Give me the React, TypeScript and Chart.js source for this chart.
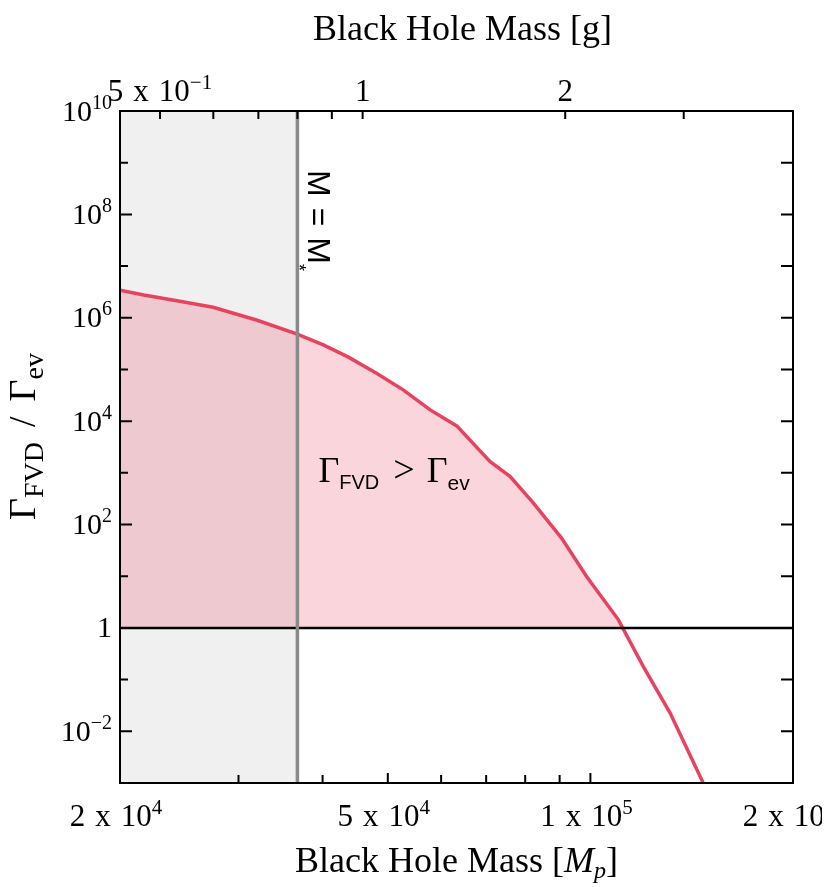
import React, { useEffect, useRef } from 'react';
import { Chart, registerables } from 'chart.js';

Chart.register(...registerables);

// ---------- data ----------
const PLANCK_MASS_G = 2.18e-5; // grams per Planck mass
const massMp = [2.0e4, 2.17e4, 2.43e4, 2.75e4, 3.19e4, 3.66e4, 4.01e4, 4.37e4, 4.81e4, 5.27e4, 5.78e4, 6.33e4, 7.09e4, 7.6e4, 8.23e4, 9.06e4, 9.87e4, 1.1e5, 1.198e5, 1.313e5, 1.471e5];
const rateRatio = [3.4e6, 2.76e6, 2.14e6, 1.6e6, 9.06e5, 4.86e5, 2.98e5, 1.73e5, 8.47e4, 4.03e4, 1.65e4, 8.1e3, 1.66e3, 850, 260, 54.8, 9.9, 1.45, 0.181, 0.0228, 1.0e-3];
const mStarGrams = 0.8;
const xMinMp = 2e4;
const xMaxMp = 2e5;
const yMin = 1e-3;
const yMax = 1e10;
const unityRatio = 1;

const bottomTickValues = [3e4, 4e4, 5e4, 6e4, 7e4, 8e4, 9e4, 1e5];
const bottomLabelValues = [2e4, 5e4, 1e5, 2e5];
const bottomLabelMantissas = ['2', '5', '1', '2'];
const bottomLabelExponents = ['4', '4', '5', '5'];
const topTickGrams = [0.5, 0.6, 0.7, 0.8, 0.9, 1, 2, 3];
const topLabelGrams = [0.5, 1, 2];
const topLabelMantissas = ['5', '1', '2'];
const topLabelExponents = ['\u22121', '', ''];
const yTickExponents = [-2, -1, 0, 1, 2, 3, 4, 5, 6, 7, 8, 9];
const yLabelExponents = [-2, 0, 2, 4, 6, 8, 10];

const mStarMp = mStarGrams / PLANCK_MASS_G;

// ---------- styles ----------
const SERIF = '"Liberation Serif", "Times New Roman", serif';
const SANS = '"Liberation Sans", Arial, sans-serif';
const RED = '#e8435e';

type Run = { t: string; f: string; dy?: number; gap?: number };

function drawRuns(ctx: CanvasRenderingContext2D, runs: Run[], x: number, y: number, align: 'left' | 'center' | 'right') {
  const widths = runs.map((r) => {
    ctx.font = r.f;
    return ctx.measureText(r.t).width + (r.gap || 0);
  });
  const total = widths.reduce((a, b) => a + b, 0);
  let cx = align === 'left' ? x : align === 'right' ? x - total : x - total / 2;
  ctx.textAlign = 'left';
  ctx.textBaseline = 'alphabetic';
  runs.forEach((r, i) => {
    ctx.font = r.f;
    ctx.fillText(r.t, cx, y + (r.dy || 0));
    cx += widths[i];
  });
}

const TICK_FONT = `31px ${SERIF}`;
const SUP_FONT = `21px ${SERIF}`;

function sciRuns(mantissa: string, exponent: string): Run[] {
  if (!exponent) return [{ t: mantissa, f: TICK_FONT }];
  return [
    { t: mantissa, f: TICK_FONT, gap: 10 },
    { t: 'x', f: TICK_FONT, gap: 10 },
    { t: '10', f: TICK_FONT },
    { t: exponent, f: SUP_FONT, dy: -12 },
  ];
}

const frameAndText = {
  id: 'frameAndText',
  afterDatasetsDraw(chart: any) {
    const ctx: CanvasRenderingContext2D = chart.ctx;
    const { left, right, top, bottom } = chart.chartArea;
    const xs = chart.scales.x;
    const x2 = chart.scales.x2;
    const ys = chart.scales.y;
    ctx.save();
    ctx.strokeStyle = '#000';
    ctx.fillStyle = '#000';
    ctx.lineWidth = 2;
    ctx.lineCap = 'butt';
    yTickExponents.forEach((e) => {
      const py = ys.getPixelForValue(Math.pow(10, e));
      const len = e % 2 === 0 ? 12 : 8;
      ctx.beginPath();
      ctx.moveTo(left, py);
      ctx.lineTo(left + len, py);
      ctx.moveTo(right, py);
      ctx.lineTo(right - 12, py);
      ctx.stroke();
    });
    bottomTickValues.forEach((v) => {
      const px = xs.getPixelForValue(v);
      const len = bottomLabelValues.includes(v) ? 10 : 8;
      ctx.beginPath();
      ctx.moveTo(px, bottom);
      ctx.lineTo(px, bottom - len);
      ctx.stroke();
    });
    topTickGrams.forEach((g) => {
      const px = x2.getPixelForValue(g);
      ctx.beginPath();
      ctx.moveTo(px, top);
      ctx.lineTo(px, top + 8);
      ctx.stroke();
    });
    ctx.strokeRect(left, top, right - left, bottom - top);
    ctx.restore();
  },
  afterDraw(chart: any) {
    const ctx: CanvasRenderingContext2D = chart.ctx;
    const { left, right, top, bottom } = chart.chartArea;
    const xs = chart.scales.x;
    const x2 = chart.scales.x2;
    const ys = chart.scales.y;
    ctx.save();
    ctx.fillStyle = '#000';
    const yFont = `30px ${SERIF}`;
    const ySup = `20px ${SERIF}`;
    yLabelExponents.forEach((e) => {
      const py = ys.getPixelForValue(Math.pow(10, e));
      const runs: Run[] = e === 0 ? [{ t: '1', f: yFont }] : [
        { t: '10', f: yFont },
        { t: e < 0 ? '\u2212' + String(-e) : String(e), f: ySup, dy: -12 },
      ];
      drawRuns(ctx, runs, left - 8, py + 9.5, 'right');
    });
    bottomLabelValues.forEach((v, i) => {
      const px = xs.getPixelForValue(v);
      drawRuns(ctx, sciRuns(bottomLabelMantissas[i], bottomLabelExponents[i]), px - 4, bottom + 43, 'center');
    });
    topLabelGrams.forEach((g, i) => {
      const px = x2.getPixelForValue(g);
      drawRuns(ctx, sciRuns(topLabelMantissas[i], topLabelExponents[i]), px, top - 10, 'center');
    });
    const cx = (left + right) / 2;
    const title = `36px ${SERIF}`;
    drawRuns(ctx, [{ t: 'Black Hole Mass [g]', f: title }], cx + 6, 32, 'center');
    drawRuns(ctx, [
      { t: 'Black Hole Mass [', f: title },
      { t: 'M', f: `italic 36px ${SERIF}` },
      { t: 'p', f: `italic 24px ${SERIF}`, dy: 6 },
      { t: ']', f: title },
    ], cx, 864, 'center');
    // y title (rotated, reads bottom to top)
    ctx.save();
    ctx.translate(27, bottom - 263);
    ctx.rotate(-Math.PI / 2);
    drawRuns(ctx, [
      { t: '\u0393', f: `38px ${SERIF}` },
      { t: 'FVD', f: `28px ${SERIF}`, dy: 8, gap: 15 },
      { t: '/', f: `38px ${SERIF}`, gap: 15 },
      { t: '\u0393', f: `38px ${SERIF}` },
      { t: 'ev', f: `28px ${SERIF}`, dy: 8 },
    ], 0, 0, 'left');
    ctx.restore();
    // region label
    const xStar = xs.getPixelForValue(mStarMp);
    drawRuns(ctx, [
      { t: '\u0393', f: `36px ${SERIF}` },
      { t: 'FVD', f: `20px ${SANS}`, dy: 7, gap: 14 },
      { t: '>', f: `38px ${SERIF}`, gap: 12 },
      { t: '\u0393', f: `36px ${SERIF}` },
      { t: 'ev', f: `21px ${SANS}`, dy: 8 },
    ], xStar + 21, ys.getPixelForValue(1e3) + 9, 'left');
    // M = M* label (rotated clockwise)
    ctx.save();
    ctx.translate(xStar + 11, top + 59);
    ctx.rotate(Math.PI / 2);
    drawRuns(ctx, [
      { t: 'M', f: `32px ${SANS}`, gap: 11 },
      { t: '=', f: `32px ${SANS}`, gap: 11 },
      { t: 'M', f: `32px ${SANS}` },
      { t: '*', f: `18px ${SANS}`, dy: 15 },
    ], 0, 0, 'left');
    ctx.restore();
    ctx.restore();
  },
};

export default function App() {
  const ref = useRef<HTMLCanvasElement | null>(null);
  useEffect(() => {
    if (!ref.current) return;
    const curve = massMp.map((m, i) => ({ x: m, y: rateRatio[i] }));
    const chart = new Chart(ref.current, {
      type: 'line',
      data: {
        datasets: [
          {
            label: 'excluded',
            data: [{ x: xMinMp, y: yMax }, { x: mStarMp, y: yMax }],
            borderWidth: 0,
            borderColor: 'rgba(0,0,0,0)',
            backgroundColor: '#f0f0f0',
            fill: 'start',
            pointRadius: 0,
            order: 5,
          },
          {
            label: 'ratio',
            data: curve,
            borderColor: RED,
            borderWidth: 3.5,
            pointRadius: 0,
            fill: { target: { value: unityRatio }, above: 'rgba(232,67,94,0.22)', below: 'rgba(0,0,0,0)' },
            order: 4,
          },
          {
            label: 'unity',
            data: [{ x: xMinMp, y: unityRatio }, { x: xMaxMp, y: unityRatio }],
            borderColor: '#000',
            borderWidth: 2.5,
            pointRadius: 0,
            fill: false,
            order: 3,
          },
          {
            label: 'mstar',
            data: [{ x: mStarMp, y: yMin }, { x: mStarMp, y: yMax }],
            borderColor: '#8a8a8a',
            borderWidth: 3.5,
            pointRadius: 0,
            fill: false,
            order: 2,
          },
        ],
      },
      options: {
        animation: false,
        responsive: false,
        devicePixelRatio: 1,
        layout: { padding: { left: 112, top: 103, right: 37, bottom: 104 } },
        plugins: { legend: { display: false }, tooltip: { enabled: false } },
        elements: { line: { tension: 0 } },
        scales: {
          x: { type: 'logarithmic', min: xMinMp, max: xMaxMp, display: false },
          x2: { type: 'logarithmic', position: 'top', min: xMinMp * PLANCK_MASS_G, max: xMaxMp * PLANCK_MASS_G, display: false },
          y: { type: 'logarithmic', min: yMin, max: yMax, display: false },
        },
      },
      plugins: [frameAndText],
    });
    return () => chart.destroy();
  }, []);
  return (
    <div style={{ width: 822, height: 879 }}>
      <canvas ref={ref} width={822} height={879} style={{ display: 'block' }} />
    </div>
  );
}
